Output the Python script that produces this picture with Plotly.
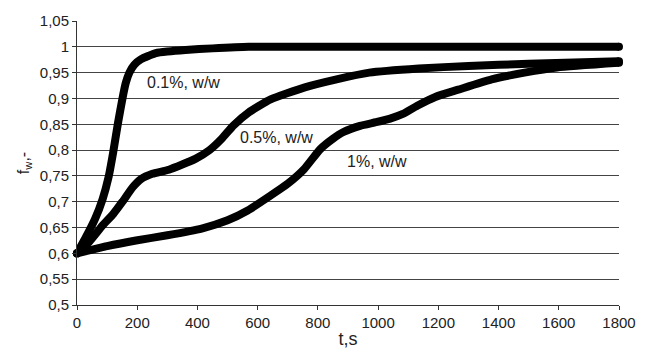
import plotly.graph_objects as go

# Data
t_01 = [0, 30, 60, 85, 105, 120, 136, 151, 162, 174, 190, 213, 240, 262, 300, 360, 450, 570, 800, 1000, 1400, 1800]
f_01 = [0.6, 0.632, 0.667, 0.705, 0.748, 0.795, 0.852, 0.900, 0.930, 0.950, 0.965, 0.976, 0.983, 0.988, 0.991, 0.994, 0.997, 1.0, 1.0, 1.0, 1.0, 1.0]

t_05 = [0, 40, 85, 120, 151, 185, 213, 250, 305, 393, 440, 479, 520, 570, 643, 754, 862, 971, 1135, 1300, 1500, 1800]
f_05 = [0.6, 0.622, 0.654, 0.676, 0.70, 0.728, 0.744, 0.754, 0.762, 0.783, 0.80, 0.821, 0.848, 0.873, 0.898, 0.921, 0.937, 0.95, 0.958, 0.963, 0.967, 0.972]

t_1 = [0, 100, 196, 300, 414, 500, 567, 643, 700, 754, 808, 850, 885, 940, 993, 1040, 1082, 1130, 1190, 1266, 1377, 1486, 1594, 1800]
f_1 = [0.6, 0.614, 0.625, 0.635, 0.648, 0.664, 0.683, 0.712, 0.735, 0.763, 0.802, 0.822, 0.835, 0.847, 0.854, 0.861, 0.87, 0.886, 0.903, 0.917, 0.937, 0.95, 0.96, 0.969]

series_labels = ["0.1%, w/w", "0.5%, w/w", "1%, w/w"]
label_pos = [(226, 0.931), (534, 0.825), (889, 0.777)]

x_tickvals = [0, 200, 400, 600, 800, 1000, 1200, 1400, 1600, 1800]
x_ticktext = ["0", "200", "400", "600", "800", "1000", "1200", "1400", "1600", "1800"]
y_tickvals = [0.5, 0.55, 0.6, 0.65, 0.7, 0.75, 0.8, 0.85, 0.9, 0.95, 1.0, 1.05]
y_ticktext = ["0,5", "0,55", "0,6", "0,65", "0,7", "0,75", "0,8", "0,85", "0,9", "0,95", "1", "1,05"]

fig = go.Figure()
for tx, fy in [(t_01, f_01), (t_05, f_05), (t_1, f_1)]:
    fig.add_trace(go.Scatter(x=tx, y=fy, mode="lines", line=dict(color="black", width=8, shape="spline", smoothing=0.5),
                             showlegend=False, hoverinfo="skip", cliponaxis=False))
    fig.add_trace(go.Scatter(x=[tx[0], tx[-1]], y=[fy[0], fy[-1]], mode="markers",
                             marker=dict(color="black", size=8), showlegend=False, hoverinfo="skip", cliponaxis=False))

for lab, (lx, ly) in zip(series_labels, label_pos):
    fig.add_annotation(x=lx, y=ly, text=lab, showarrow=False, xanchor="left", yanchor="middle",
                       font=dict(family="Liberation Sans, Arial", size=16, color="#222"))

fig.update_layout(
    width=648, height=358,
    margin=dict(l=77, r=22, t=21, b=51),
    paper_bgcolor="white", plot_bgcolor="white",
    font=dict(family="Liberation Sans, Arial", size=15, color="#222"),
)
fig.update_xaxes(range=[0, 1800], tickvals=x_tickvals, ticktext=x_ticktext,
                 showgrid=False, zeroline=False, showline=True, linecolor="#333", linewidth=1,
                 ticks="outside", ticklen=4, tickcolor="#333",
                 title=dict(text="t,s", standoff=2, font=dict(size=18)))
fig.update_yaxes(range=[0.5, 1.05], tickvals=y_tickvals, ticktext=y_ticktext,
                 showgrid=True, gridcolor="#444", gridwidth=1, zeroline=False,
                 showline=True, linecolor="#333", linewidth=1,
                 ticks="outside", ticklen=4, tickcolor="#333",
                 title=dict(text="f<sub>w</sub>,-", standoff=6, font=dict(size=16)))

fig.write_html("out.html")
